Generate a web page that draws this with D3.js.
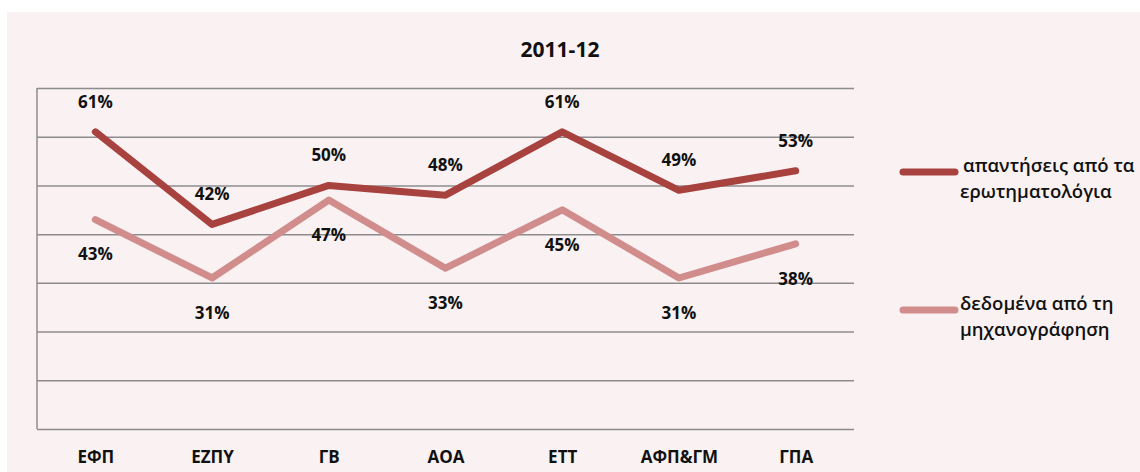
<!DOCTYPE html>
<html>
<head>
<meta charset="utf-8">
<script src="https://cdn.jsdelivr.net/npm/d3@7"></script>
<style>
  body { margin: 0; background: #fff; }
  text { font-family: "Open Sans", sans-serif; font-weight: bold; fill: #111; }
</style>
</head>
<body>
<svg id="chart" width="1140" height="472"></svg>
<script>
const categories = ["ΕΦΠ", "ΕΖΠΥ", "ΓΒ", "ΑΟΑ", "ΕΤΤ", "ΑΦΠ&ΓΜ", "ΓΠΑ"];
const answers = [61, 42, 50, 48, 61, 49, 53];
const records = [43, 31, 47, 33, 45, 31, 38];
const seriesNames = [["απαντήσεις από τα", "ερωτηματολόγια"], ["δεδομένα από τη", "μηχανογράφηση"]];
const yTicks = [0, 10, 20, 30, 40, 50, 60, 70];

const margin = { top: 88, left: 37, right: 286, bottom: 43 };
const svg = d3.select("svg#chart"),
  width = +svg.attr("width") - margin.left - margin.right,
  height = +svg.attr("height") - margin.top - margin.bottom;

svg.append("rect")
  .attr("x", 7).attr("y", 12)
  .attr("width", 1140 - 7).attr("height", 472 - 12)
  .attr("fill", "#faf1f2");

const g = svg.append("g").attr("transform", `translate(${margin.left}, ${margin.top})`);

const x = d3.scalePoint().domain(categories).range([0, width]).padding(0.5);
const y = d3.scaleLinear().domain([0, 70]).range([height, 0]);

// gridlines
g.append("g")
  .call(d3.axisLeft(y).tickValues(yTicks).tickSize(-width).tickFormat(""))
  .call(a => a.select(".domain").remove())
  .selectAll("line").attr("stroke", "#8c8c8c").attr("stroke-width", 1.5);

g.append("line")
  .attr("x1", 0).attr("x2", 0).attr("y1", 0).attr("y2", height)
  .attr("stroke", "#8c8c8c").attr("stroke-width", 1.5);

// category labels
g.append("g")
  .attr("transform", `translate(0, ${height})`)
  .call(d3.axisBottom(x).tickSize(0).tickPadding(22))
  .call(a => a.select(".domain").remove())
  .selectAll("text")
  .style("font-size", "17px")
  .style("font-family", "'Open Sans', sans-serif")
  .style("font-weight", "bold")
  .attr("fill", "#111");

const line = d3.line()
  .x((d, i) => x(categories[i]))
  .y(d => y(d));

const series = [
  { values: answers, color: "#a8423f", dy: -30 },
  { values: records, color: "#d18c8c", dy: 35 }
];

series.forEach(s => {
  g.append("path")
    .datum(s.values)
    .attr("fill", "none")
    .attr("stroke", s.color)
    .attr("stroke-width", 7)
    .attr("stroke-linecap", "round")
    .attr("stroke-linejoin", "round")
    .attr("d", line);

  g.selectAll(null)
    .data(s.values)
    .enter().append("text")
    .attr("x", (d, i) => x(categories[i]))
    .attr("y", d => y(d) + s.dy)
    .attr("dy", "0.35em")
    .attr("text-anchor", "middle")
    .style("font-size", "17px")
    .text(d => d + "%");
});

svg.append("text")
  .attr("x", 560)
  .attr("y", 50)
  .attr("dy", "0.35em")
  .attr("text-anchor", "middle")
  .style("font-size", "21px")
  .text("2011-12");

// legend
const legend = svg.selectAll(".legend")
  .data(series)
  .enter().append("g")
  .attr("class", "legend")
  .attr("transform", (d, i) => `translate(903, ${172 + i * 138})`);

legend.append("line")
  .attr("x1", 0).attr("x2", 52)
  .attr("stroke", d => d.color)
  .attr("stroke-width", 7)
  .attr("stroke-linecap", "round");

legend.append("text")
  .attr("dy", "0.35em")
  .style("font-size", "18.5px")
  .style("font-weight", "600")
  .selectAll("tspan")
  .data((d, i) => seriesNames[i].map((t, j) => ({ t, j, first: i === 0 })))
  .enter().append("tspan")
  .attr("x", d => d.j === 0 && d.first ? 60 : 57)
  .attr("dy", d => d.j === 0 ? 0 : 26)
  .text(d => d.t);
</script>
</body>
</html>
